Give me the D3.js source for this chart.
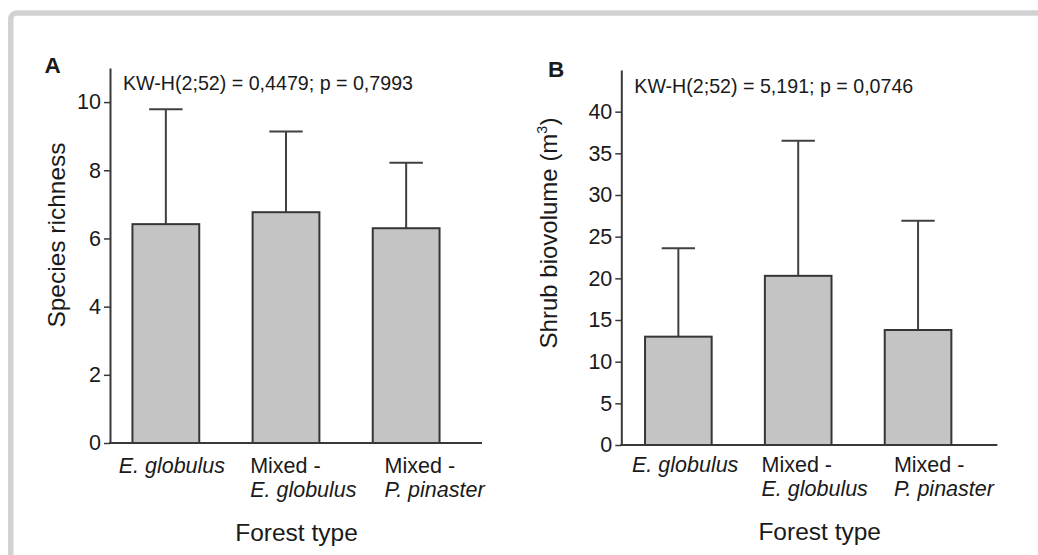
<!DOCTYPE html>
<html>
<head>
<meta charset="utf-8">
<script src="https://cdn.jsdelivr.net/npm/d3@7"></script>
<style>
  html, body { margin: 0; padding: 0; background: #ffffff; }
  svg { display: block; }
  text { font-family: "Liberation Sans", Arial, Helvetica, sans-serif; fill: #1a1a1a; }
</style>
</head>
<body>
<svg id="chart" width="1038" height="555"></svg>
<script>
// ---- data ----
const categories = ["E. globulus", "Mixed - E. globulus", "Mixed - P. pinaster"];
const categoryLines = [
  [{t: "E. globulus", it: true}],
  [{t: "Mixed -", it: false}, {t: "E. globulus", it: true}],
  [{t: "Mixed -", it: false}, {t: "P. pinaster", it: true}]
];
const richnessMean = [6.42, 6.77, 6.30];
const richnessSD   = [3.37, 2.37, 1.92];
const richnessTicks = [0, 2, 4, 6, 8, 10];
const biovolumeMean = [13.0, 20.3, 13.8];
const biovolumeSD   = [10.6, 16.2, 13.1];
const biovolumeTicks = [0, 5, 10, 15, 20, 25, 30, 35, 40];
const panelLetters = ["A", "B"];
const statTexts = ["KW-H(2;52) = 0,4479; p = 0,7993", "KW-H(2;52) = 5,191; p = 0,0746"];
const xTitle = "Forest type";

const svg = d3.select("#chart");

// outer frame (only top/left edges visible)
svg.append("rect")
  .attr("x", 10.8).attr("y", 13)
  .attr("width", 1300).attr("height", 800)
  .attr("rx", 6).attr("ry", 6)
  .attr("fill", "#ffffff")
  .attr("stroke", "#d2d2d2")
  .attr("stroke-width", 5.5);

const AXIS = "#383838";

function drawPanel(cfg) {
  const g = svg.append("g");
  const y = d3.scaleLinear().domain([0, cfg.yMax]).range([cfg.y0, cfg.yTop]);
  const step = cfg.step;
  const pi = 0.444;
  const x = d3.scaleBand().domain(categories)
    .range([cfg.x0 + cfg.first - step / 2, cfg.x0 + cfg.first + 2.5 * step])
    .paddingInner(pi).paddingOuter(pi / 2);
  const xl = d3.scalePoint().domain(categories)
    .range([cfg.x0 + cfg.lab0, cfg.x0 + cfg.lab1]);

  const data = categories.map((c, i) => ({c, m: cfg.mean[i], sd: cfg.sd[i], lines: categoryLines[i]}));

  // error bars (upper only)
  const eb = g.append("g").attr("stroke", "#404040").attr("stroke-width", 2).attr("fill", "none");
  eb.selectAll("line.v").data(data).join("line").attr("class", "v")
    .attr("x1", d => x(d.c) + x.bandwidth() / 2).attr("x2", d => x(d.c) + x.bandwidth() / 2)
    .attr("y1", d => y(d.m)).attr("y2", d => y(d.m + d.sd));
  eb.selectAll("line.cap").data(data).join("line").attr("class", "cap")
    .attr("x1", d => x(d.c) + x.bandwidth() / 4).attr("x2", d => x(d.c) + x.bandwidth() * 0.75)
    .attr("y1", d => y(d.m + d.sd)).attr("y2", d => y(d.m + d.sd));

  // bars
  g.append("g").selectAll("rect").data(data).join("rect")
    .attr("x", d => x(d.c)).attr("width", x.bandwidth())
    .attr("y", d => y(d.m)).attr("height", d => y(0) - y(d.m))
    .attr("fill", "#c4c4c4").attr("stroke", "#363636").attr("stroke-width", 2);

  // y axis
  const ya = g.append("g").attr("transform", `translate(${cfg.x0},0)`)
    .call(d3.axisLeft(y).tickValues(cfg.ticks).tickSize(6).tickSizeOuter(0).tickPadding(3));
  ya.select(".domain").attr("stroke", AXIS).attr("stroke-width", 2);
  ya.selectAll(".tick line").attr("stroke", AXIS).attr("stroke-width", 1.5);
  ya.selectAll(".tick text").attr("font-size", 21.5).attr("fill", "#1a1a1a")
    .attr("font-family", '"Liberation Sans", Arial, sans-serif');

  // x axis line
  g.append("line")
    .attr("x1", cfg.x0 - 1).attr("x2", cfg.x0 + cfg.xw)
    .attr("y1", cfg.y0).attr("y2", cfg.y0)
    .attr("stroke", AXIS).attr("stroke-width", 2);

  // category labels
  data.forEach(d => {
    const t = g.append("text").attr("font-size", 21.5);
    d.lines.forEach((ln, j) => {
      t.append("tspan").attr("x", 0).attr("y", cfg.labBase + j * 24)
        .attr("font-style", ln.it ? "italic" : "normal").text(ln.t);
    });
    const w = t.node().getBBox().width;
    t.attr("transform", `translate(${xl(d.c) - w / 2},0)`);
  });

  // x title
  g.append("text").attr("x", cfg.x0 + cfg.titleX).attr("y", cfg.titleBase)
    .attr("text-anchor", "middle").attr("font-size", 24.5).text(xTitle);

  // y title
  const yt = g.append("text")
    .attr("transform", `translate(${cfg.ytX},${cfg.ytY}) rotate(-90)`)
    .attr("text-anchor", "middle").attr("font-size", cfg.ytSize);
  cfg.ytParts.forEach(p => {
    const s = yt.append("tspan").text(p.t);
    if (p.sup) s.attr("font-size", cfg.ytSize * 0.6).attr("dy", -10);
    if (p.after) s.attr("dy", 10);
  });

  // panel letter
  g.append("text").attr("x", cfg.letterX).attr("y", cfg.letterY)
    .attr("font-size", 22.5).attr("font-weight", "bold").text(cfg.letter);

  // stats text
  g.append("text").attr("x", cfg.x0 + 13).attr("y", cfg.statY)
    .attr("font-size", 21).attr("textLength", cfg.statW).attr("lengthAdjust", "spacingAndGlyphs")
    .text(cfg.stat);
}

drawPanel({
  x0: 110, xw: 372, y0: 443, yTop: 68, yMax: 11,
  first: 55.85, step: 120.15, lab0: 62, lab1: 325,
  mean: richnessMean, sd: richnessSD, ticks: richnessTicks,
  labBase: 472.5, titleX: 186.5, titleBase: 541,
  ytX: 65, ytY: 235, ytSize: 24.5,
  ytParts: [{t: "Species richness"}],
  letter: panelLetters[0], letterX: 44.5, letterY: 72.5,
  stat: statTexts[0], statY: 89.5, statW: 290
});

drawPanel({
  x0: 621.3, xw: 376, y0: 445, yTop: 70, yMax: 45,
  first: 57.05, step: 119.85, lab0: 64, lab1: 323,
  mean: biovolumeMean, sd: biovolumeSD, ticks: biovolumeTicks,
  labBase: 472, titleX: 198.4, titleBase: 540,
  ytX: 557, ytY: 233, ytSize: 24,
  ytParts: [{t: "Shrub biovolume (m"}, {t: "3", sup: true}, {t: ")", after: true}],
  letter: panelLetters[1], letterX: 548, letterY: 77,
  stat: statTexts[1], statY: 93, statW: 279
});
</script>
</body>
</html>
